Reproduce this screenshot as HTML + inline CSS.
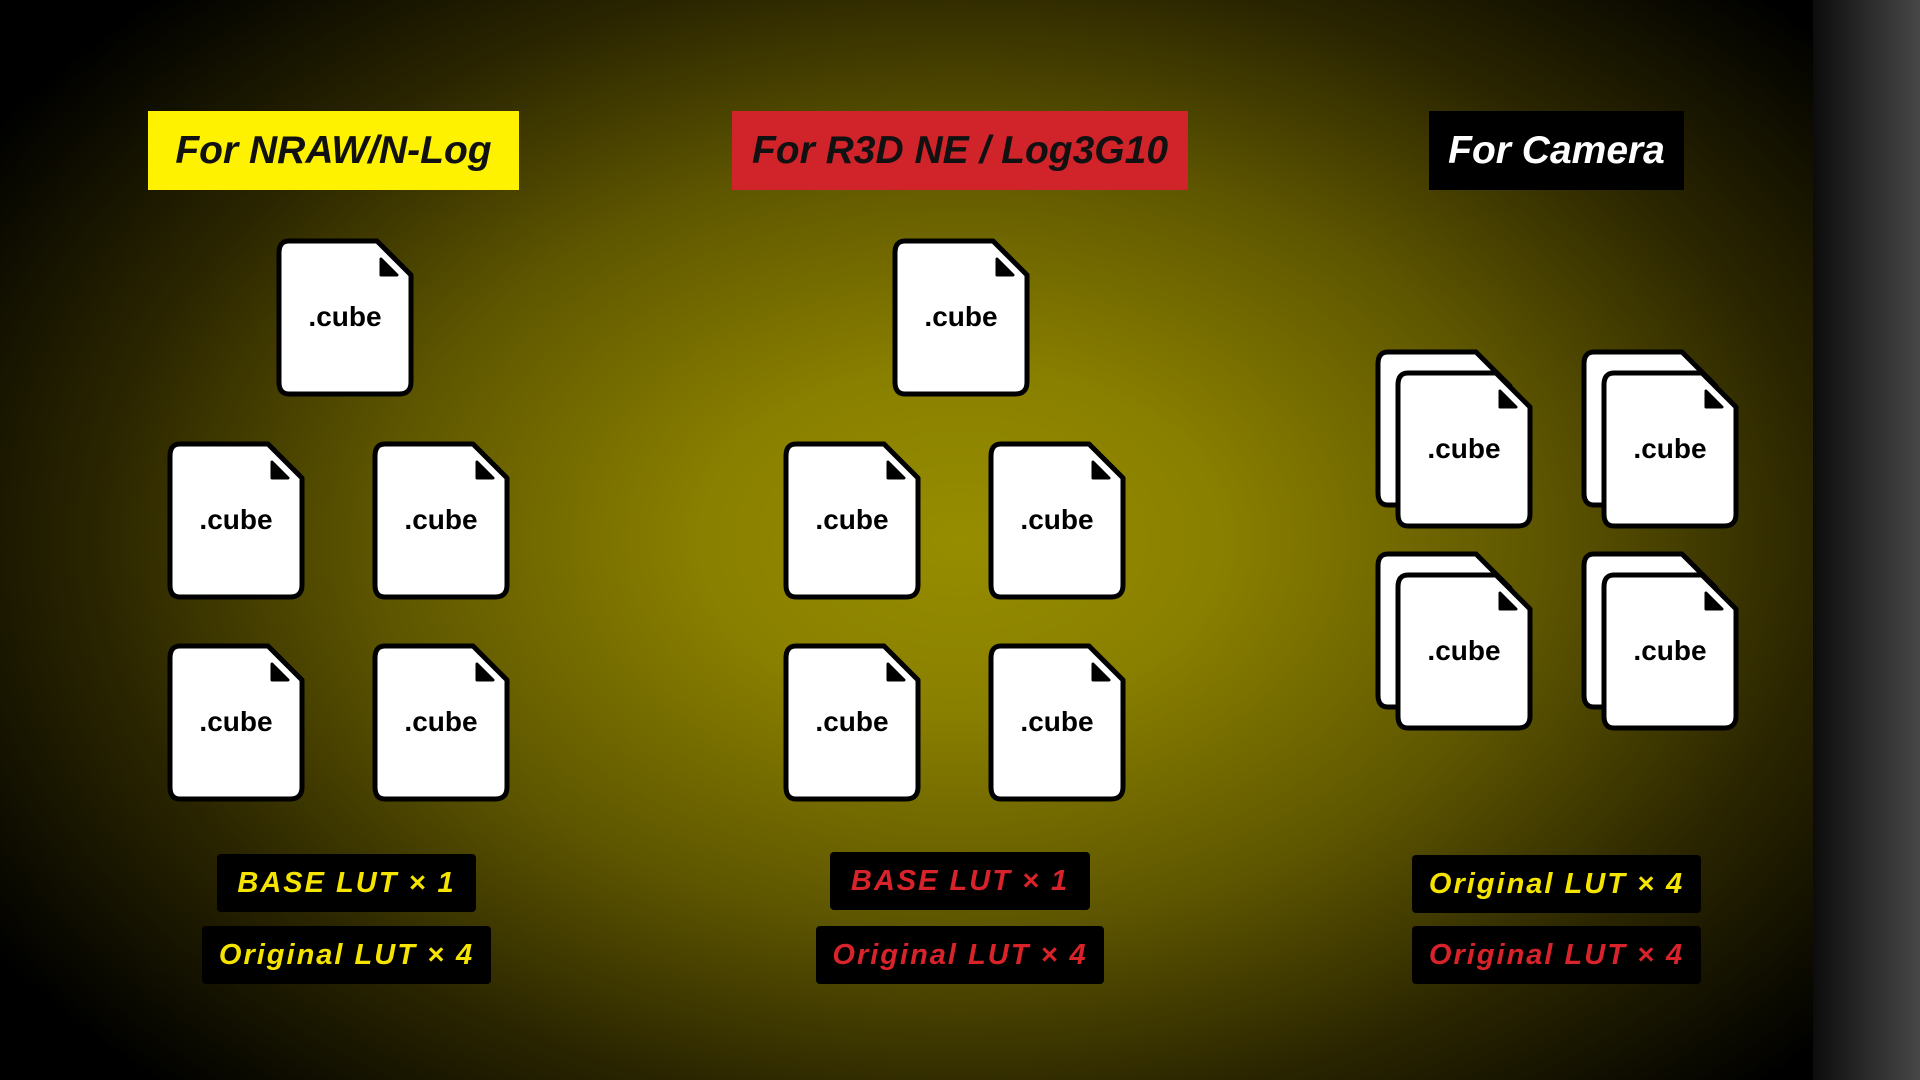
<!DOCTYPE html>
<html><head><meta charset="utf-8"><style>
html,body{margin:0;padding:0}
body{width:1920px;height:1080px;position:relative;overflow:hidden;background:#000;font-family:"Liberation Sans",sans-serif}
.bg{position:absolute;inset:0;background:radial-gradient(ellipse 1150px 760px at 960px 540px,#968d00 0%,#8a8000 22%,#5f5700 50%,#2a2500 75%,#000 100%)}
.side{position:absolute;left:1813px;top:0;width:107px;height:1080px;background:linear-gradient(90deg,#0c0c0c,#2a2a2a 50%,#474747)}
.hd{position:absolute;top:111px;height:79px;line-height:79px;text-align:center;font-weight:bold;font-style:italic;font-size:39px}
.lb{position:absolute;height:58px;line-height:58px;text-align:center;background:#000;font-weight:bold;font-style:italic;font-size:29px;letter-spacing:2px;border-radius:4px}
.y{color:#f5e400}.r{color:#d8232a}
svg{position:absolute;left:0;top:0}
</style></head><body>
<div class="bg"></div><div class="side"></div>
<div class="hd" style="left:148px;width:371px;background:#fff200;color:#111">For NRAW/N-Log</div>
<div class="hd" style="left:732px;width:456px;background:#d0232a;color:#111">For R3D NE / Log3G10</div>
<div class="hd" style="left:1429px;width:255px;background:#000;color:#fff">For Camera</div>
<svg width="1920" height="1080">
<defs>
<g id="f">
<path d="M12,2 H100 L134,36 V143 Q134,155 122,155 H12 Q2,155 2,143 V14 Q2,2 12,2 Z" fill="#fff" stroke="#000" stroke-width="5" stroke-linejoin="round"/>
<path d="M104,20 L120,36 H104 Z" fill="#000" stroke="#000" stroke-width="3" stroke-linejoin="round"/>
</g>
<g id="fb">
<path d="M12,2 H100 L134,36 V143 Q134,155 122,155 H12 Q2,155 2,143 V14 Q2,2 12,2 Z" fill="#fff" stroke="#000" stroke-width="5" stroke-linejoin="round"/>
</g>
</defs>
<g font-family="Liberation Sans, sans-serif" font-weight="bold" font-size="28" text-anchor="middle" fill="#000">
<use href="#f" x="277" y="239"/><text x="345" y="326">.cube</text>
<use href="#f" x="168" y="442"/><text x="236" y="529">.cube</text>
<use href="#f" x="373" y="442"/><text x="441" y="529">.cube</text>
<use href="#f" x="168" y="644"/><text x="236" y="731">.cube</text>
<use href="#f" x="373" y="644"/><text x="441" y="731">.cube</text>
<use href="#f" x="893" y="239"/><text x="961" y="326">.cube</text>
<use href="#f" x="784" y="442"/><text x="852" y="529">.cube</text>
<use href="#f" x="989" y="442"/><text x="1057" y="529">.cube</text>
<use href="#f" x="784" y="644"/><text x="852" y="731">.cube</text>
<use href="#f" x="989" y="644"/><text x="1057" y="731">.cube</text>
<use href="#fb" x="1376" y="350"/><use href="#f" x="1396" y="371"/><text x="1464" y="458">.cube</text>
<use href="#fb" x="1582" y="350"/><use href="#f" x="1602" y="371"/><text x="1670" y="458">.cube</text>
<use href="#fb" x="1376" y="552"/><use href="#f" x="1396" y="573"/><text x="1464" y="660">.cube</text>
<use href="#fb" x="1582" y="552"/><use href="#f" x="1602" y="573"/><text x="1670" y="660">.cube</text>
</g>
</svg>
<div class="lb y" style="left:217px;top:854px;width:259px">BASE LUT × 1</div>
<div class="lb y" style="left:202px;top:926px;width:289px">Original LUT × 4</div>
<div class="lb r" style="left:830px;top:852px;width:260px">BASE LUT × 1</div>
<div class="lb r" style="left:816px;top:926px;width:288px">Original LUT × 4</div>
<div class="lb y" style="left:1412px;top:855px;width:289px">Original LUT × 4</div>
<div class="lb r" style="left:1412px;top:926px;width:289px">Original LUT × 4</div>
</body></html>
